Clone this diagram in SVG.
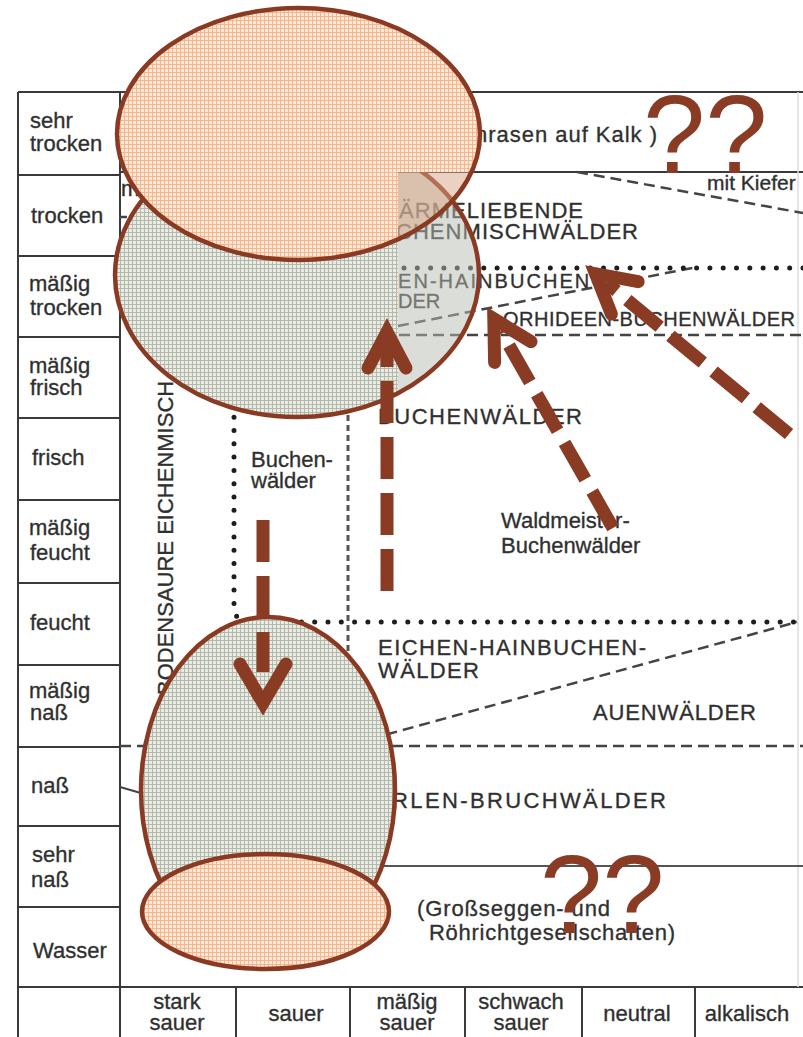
<svg xmlns="http://www.w3.org/2000/svg" width="803" height="1037" viewBox="0 0 803 1037">
<defs>
<style>
.t{font-family:"Liberation Sans",Arial,sans-serif;font-size:22px;fill:#2e2e2e;stroke:#3a3a3a;stroke-width:0.35}
.m{text-anchor:middle}
.grid{stroke:#3a3a3a;stroke-width:2;fill:none}
.dash{stroke:#444;stroke-width:2.5;fill:none;stroke-dasharray:11 6}
.vdash{stroke:#555;stroke-width:3;fill:none;stroke-dasharray:6 4}
.dot{stroke:#1e1e1e;stroke-width:5;fill:none;stroke-linecap:round;stroke-dasharray:0 13.3}
.ol{fill:none;stroke:#8a3a22;stroke-width:4.5}
.shaft{stroke:#8a3b24;stroke-width:13;fill:none;stroke-dasharray:42 14}
.head{stroke:#8a3b24;stroke-width:13;fill:none;stroke-linecap:round;stroke-linejoin:miter}
.q{font-family:"Liberation Sans",Arial,sans-serif;font-size:112px;fill:#8a3b24}
</style>
<pattern id="po" width="4" height="4" patternUnits="userSpaceOnUse"><rect width="4" height="4" fill="#fde8da"/><rect width="4" height="1" fill="#f6b68c"/><rect width="1" height="4" fill="#f6b68c"/></pattern>
<pattern id="pg" width="4" height="4" patternUnits="userSpaceOnUse"><rect width="4" height="4" fill="#e9ebe5"/><rect width="4" height="1" fill="#b3b8aa"/><rect width="1" height="4" fill="#b3b8aa"/></pattern>
<clipPath id="out"><path d="M0,0H803V172H398V1037H0Z"/></clipPath>
<clipPath id="in"><rect x="398" y="172" width="405" height="865"/></clipPath>
</defs>
<rect width="803" height="1037" fill="#fff"/>

<g id="chart-grid">
<path class="grid" d="M18,92H803M18,92V1037M120,92V1037M18,987H803"/>
<path class="grid" d="M18,175H120M18,256H120M18,337H120M18,418H120M18,500H120M18,583H120M18,665H120M18,747H120M18,826H120M18,907H120"/>
<path class="grid" d="M236,987V1037M350,987V1037M465,987V1037M582,987V1037M695,987V1037"/>
<path class="grid" d="M120,172H803"/>
<path d="M798,92V987" stroke="#dcdcdc" stroke-width="1.5" fill="none"/>
</g>

<g id="moisture-labels">
<text class="t" x="30" y="128">sehr</text><text class="t" x="30" y="151">trocken</text>
<text class="t" x="31" y="223">trocken</text>
<text class="t" x="29" y="291">mäßig</text><text class="t" x="30" y="315">trocken</text>
<text class="t" x="29" y="373">mäßig</text><text class="t" x="30" y="395">frisch</text>
<text class="t" x="32" y="465">frisch</text>
<text class="t" x="29" y="535">mäßig</text><text class="t" x="30" y="560">feucht</text>
<text class="t" x="30" y="630">feucht</text>
<text class="t" x="29" y="698">mäßig</text><text class="t" x="30" y="720">naß</text>
<text class="t" x="31" y="793">naß</text>
<text class="t" x="32" y="862">sehr</text><text class="t" x="31" y="887">naß</text>
<text class="t" x="33" y="958">Wasser</text>
</g>

<g id="ph-labels">
<text class="t m" x="177" y="1009">stark</text><text class="t m" x="177" y="1030">sauer</text>
<text class="t m" x="296" y="1021">sauer</text>
<text class="t m" x="407" y="1009">mäßig</text><text class="t m" x="407" y="1030">sauer</text>
<text class="t m" x="521" y="1009">schwach</text><text class="t m" x="521" y="1030">sauer</text>
<text class="t m" x="637" y="1021">neutral</text>
<text class="t m" x="747" y="1021">alkalisch</text>
</g>

<g id="region-lines">
<path class="dash" d="M577,172L803,213"/>
<path class="dash" d="M398,326L697,267"/>
<path class="dash" d="M348,335H803"/>
<path class="vdash" d="M348,335V652"/>
<path class="dash" d="M370,739L797,622"/>
<path class="dash" d="M120,746H803"/>
<path class="dot" d="M803,268H234V606Q234,622 250,622H803"/>
<path d="M120,787L165,800" stroke="#444" stroke-width="2" fill="none"/>
<path d="M380,866H803" stroke="#555" stroke-width="2" fill="none"/>
<path d="M119,217H127" stroke="#444" stroke-width="2.5" fill="none"/>
</g>

<g id="region-labels">
<text class="t" x="121" y="196">m</text>
<text class="t" x="475" y="142" textLength="182">nrasen auf Kalk )</text>
<text class="t" x="707" y="190" style="font-size:21px">mit Kiefer</text>
<text class="t" x="399" y="218" textLength="184">ÄRMELIEBENDE</text>
<text class="t" x="396" y="239" textLength="242">CHENMISCHWÄLDER</text>
<text class="t" x="398" y="288" style="font-size:20px" textLength="200">EN-HAINBUCHEN-</text>
<text class="t" x="398" y="308" style="font-size:20px">DER</text>
<text class="t" x="503" y="326" style="font-size:20px" textLength="292">ORHIDEEN-BUCHENWÄLDER</text>
<text class="t" x="378" y="424" textLength="204">BUCHENWÄLDER</text>
<text class="t" x="251" y="467">Buchen-</text><text class="t" x="251" y="488">wälder</text>
<text class="t" x="501" y="528">Waldmeister-</text><text class="t" x="501" y="553">Buchenwälder</text>
<text class="t" x="378" y="655" textLength="268">EICHEN-HAINBUCHEN-</text>
<text class="t" x="378" y="678" textLength="101">WÄLDER</text>
<text class="t" x="593" y="720" textLength="163">AUENWÄLDER</text>
<text class="t" x="392" y="808" textLength="274">RLEN-BRUCHWÄLDER</text>
<text class="t" x="417" y="916" textLength="193">(Großseggen- und</text>
<text class="t" x="429" y="940" textLength="246">Röhrichtgesellschaften)</text>
<text class="t" transform="translate(173,695) rotate(-90)">BODENSAURE EICHENMISCH</text>
</g>

<g id="ellipse-upper-gray">
<ellipse cx="297" cy="275" rx="182" ry="142" fill="url(#pg)" clip-path="url(#out)"/>
<ellipse cx="297" cy="275" rx="182" ry="142" fill="#b8bdb2" fill-opacity="0.5" clip-path="url(#in)"/>
<ellipse class="ol" cx="297" cy="275" rx="182" ry="142"/>
</g>
<g id="ellipse-upper-orange">
<ellipse cx="298.5" cy="134" rx="181.5" ry="126" fill="url(#po)" clip-path="url(#out)"/>
<ellipse cx="298.5" cy="134" rx="181.5" ry="126" fill="#d8a384" fill-opacity="0.5" clip-path="url(#in)"/>
<ellipse class="ol" cx="298.5" cy="134" rx="181.5" ry="126"/>
</g>
<g id="ellipse-lower-gray">
<ellipse cx="268" cy="790" rx="127" ry="173" fill="url(#pg)"/>
<ellipse class="ol" cx="268" cy="790" rx="127" ry="173"/>
</g>
<g id="ellipse-lower-orange">
<ellipse cx="265.5" cy="911.5" rx="123.5" ry="57.5" fill="url(#po)"/>
<ellipse class="ol" cx="265.5" cy="911.5" rx="123.5" ry="57.5"/>
</g>

<g id="connectors">
<g id="arrow-up">
<path class="shaft" d="M387,591V345"/>
<path class="head" d="M368,368L387,332L406,368"/>
</g>
<g id="arrow-down">
<path class="shaft" d="M263,520V672"/>
<path class="head" d="M240,664L263,703L286,664"/>
</g>
<g id="arrow-middle">
<path class="shaft" d="M613,528L500.9,331.2"/>
<path class="head" d="M531,341.6L493.8,318.8L494.6,362.4"/>
</g>
<g id="arrow-right">
<path class="shaft" d="M789,434L606.3,282.6"/>
<path class="head" d="M638.2,281.7L595.5,273.7L611.4,314.1"/>
</g>
</g>

<g id="question-marks">
<text class="q" x="643" y="173">??</text>
<text class="q" x="540" y="933">??</text>
</g>
</svg>
